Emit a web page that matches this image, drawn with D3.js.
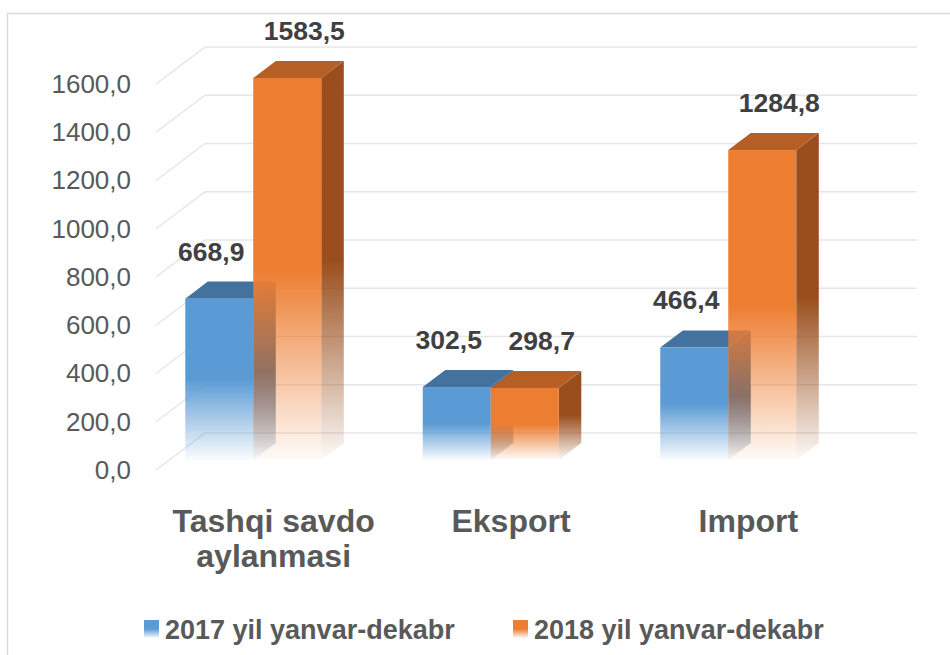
<!DOCTYPE html>
<html>
<head>
<meta charset="utf-8">
<script src="https://cdn.jsdelivr.net/npm/d3@7"></script>
<style>
  body { margin: 0; background: #fff; }
  svg { display: block; font-family: "Liberation Sans", Arial, sans-serif; }
</style>
</head>
<body>
<div id="chart"></div>
<script>
// Data
const categories = ['Tashqi savdo aylanmasi', 'Eksport', 'Import'];
const seriesNames = ['2017 yil yanvar-dekabr', '2018 yil yanvar-dekabr'];
const values2017 = [668.9, 302.5, 466.4];
const values2018 = [1583.5, 298.7, 1284.8];
const yTicks = [0, 200, 400, 600, 800, 1000, 1200, 1400, 1600];

const colors = {
  front: ['#5b9bd5', '#ed7d31'],
  top:   ['#44729f', '#b65f25'],
  side:  ['#3d6791', '#9a4e1d']
};

const W = 950, H = 655;

// oblique "3D" settings: full floor depth and the slice a bar occupies
const floorDX = 49, floorDY = -37;
const barZ0 = 0.27, barZ1 = 0.73;

const fmt = v => d3.format('.1f')(v).replace('.', ',');

const svg = d3.select('#chart').append('svg')
  .attr('width', W)
  .attr('height', H);

// chart frame (runs off the right and bottom edges)
svg.append('rect')
  .attr('x', 7.5).attr('y', 13.5)
  .attr('width', 1000).attr('height', 700)
  .attr('fill', '#fff')
  .attr('stroke', '#d9d9d9')
  .attr('stroke-width', 1.5);

const defs = svg.append('defs');
['front', 'side'].forEach(face => {
  [0, 1].forEach(i => {
    const g = defs.append('linearGradient')
      .attr('id', `grad-${face}-${i}`)
      .attr('x1', 0).attr('y1', 0).attr('x2', 0).attr('y2', 1);
    g.append('stop').attr('offset', 0).attr('stop-color', colors[face][i]).attr('stop-opacity', 1);
    g.append('stop').attr('offset', 0.5).attr('stop-color', colors[face][i]).attr('stop-opacity', 1);
    g.append('stop').attr('offset', 1).attr('stop-color', colors[face][i]).attr('stop-opacity', 0.03);
  });
});

// Scales
const yScale = d3.scaleLinear().domain([0, 1600]).range([470, 84]);  // front plane
const xFloor = d3.scaleBand().domain(categories).range([156, 868]);  // front edge of the floor
const xBar = d3.scaleBand().domain(categories).range([134.5, 847]);  // bar groups (perspective shifted)
const xSeries = d3.scaleBand().domain([0, 1]).range([-68, 68]);

// Gridlines: left wall diagonal + back wall
const grid = svg.append('g').attr('class', 'grid')
  .attr('stroke', '#e6e6e6').attr('stroke-width', 1.5).attr('fill', 'none');

grid.selectAll('.wall')
  .data(yTicks).enter()
  .append('path')
  .attr('d', d => {
    const x0 = xFloor.range()[0], y0 = yScale(d);
    return `M${x0},${y0} L${x0 + floorDX},${y0 + floorDY} L${xFloor.range()[1] + floorDX},${y0 + floorDY}`;
  });

// Bars
const barData = [];
categories.forEach((c, ci) => {
  [values2017[ci], values2018[ci]].forEach((v, si) => barData.push({ cat: c, s: si, value: v }));
});

const dz = barZ1 - barZ0;
const bars = svg.append('g').attr('class', 'bars')
  .selectAll('g').data(barData).enter()
  .append('g');

function barGeom(d) {
  const xl = xBar(d.cat) + xBar.bandwidth() / 2 + xSeries(d.s);
  const xr = xl + xSeries.bandwidth();
  const yt = yScale(d.value) + floorDY * barZ0;
  const yb = yScale(0) + floorDY * barZ0;
  return { xl, xr, yt, yb, ox: floorDX * dz, oy: floorDY * dz };
}

bars.append('path')
  .attr('fill', d => `url(#grad-side-${d.s})`)
  .attr('d', d => {
    const g = barGeom(d);
    return `M${g.xr},${g.yt} L${g.xr + g.ox},${g.yt + g.oy} L${g.xr + g.ox},${g.yb + g.oy} L${g.xr},${g.yb} Z`;
  });

bars.append('path')
  .attr('fill', d => colors.top[d.s])
  .attr('d', d => {
    const g = barGeom(d);
    return `M${g.xl},${g.yt} L${g.xl + g.ox},${g.yt + g.oy} L${g.xr + g.ox},${g.yt + g.oy} L${g.xr},${g.yt} Z`;
  });

bars.append('rect')
  .attr('fill', d => `url(#grad-front-${d.s})`)
  .attr('x', d => barGeom(d).xl)
  .attr('y', d => barGeom(d).yt)
  .attr('width', xSeries.bandwidth())
  .attr('height', d => { const g = barGeom(d); return g.yb - g.yt; });

// Data labels
const labelShift = [-8, 17];
svg.append('g').attr('class', 'labels')
  .selectAll('text').data(barData).enter()
  .append('text')
  .attr('x', d => { const g = barGeom(d); return (g.xl + g.xr) / 2 + labelShift[d.s]; })
  .attr('y', d => { const g = barGeom(d); return g.yt + g.oy - 21; })
  .attr('text-anchor', 'middle')
  .attr('font-size', '26.5px')
  .attr('font-weight', 'bold')
  .attr('fill', '#404040')
  .text(d => fmt(d.value));

// Y axis
const yAxisG = svg.append('g')
  .attr('transform', 'translate(140,0)')
  .call(d3.axisLeft(yScale).tickValues(yTicks).tickSize(0).tickPadding(9).tickFormat(fmt));
yAxisG.select('.domain').remove();
yAxisG.selectAll('text')
  .attr('font-size', '26px')
  .attr('font-family', '"Liberation Sans", Arial, sans-serif')
  .attr('fill', '#595959');

// X axis (category names)
const xAxisG = svg.append('g')
  .attr('transform', 'translate(-1,500)')
  .call(d3.axisBottom(xFloor).tickSize(0).tickPadding(9));
xAxisG.select('.domain').remove();
xAxisG.selectAll('text')
  .attr('font-size', '32px')
  .attr('font-weight', 'bold')
  .attr('font-family', '"Liberation Sans", Arial, sans-serif')
  .attr('fill', '#595959')
  .call(wrap, 230);

function wrap(texts, width) {
  texts.each(function () {
    const text = d3.select(this);
    const words = text.text().split(/\s+/);
    const y = text.attr('y');
    text.text(null);
    let line = [];
    let tspan = text.append('tspan').attr('x', 0).attr('y', y).attr('dy', '0.71em');
    words.forEach(w => {
      line.push(w);
      tspan.text(line.join(' '));
      if (tspan.node().getComputedTextLength() > width && line.length > 1) {
        line.pop();
        tspan.text(line.join(' '));
        line = [w];
        tspan = text.append('tspan').attr('x', 0).attr('dy', '1.1em').text(w);
      }
    });
  });
}

// Legend
const legendX = [144, 513];
const legend = svg.append('g').attr('class', 'legend')
  .selectAll('g').data(seriesNames).enter()
  .append('g')
  .attr('transform', (d, i) => `translate(${legendX[i]},620)`);

legend.append('rect')
  .attr('width', 15).attr('height', 18)
  .attr('fill', (d, i) => `url(#grad-front-${i})`);

legend.append('text')
  .attr('x', 21).attr('y', 19)
  .attr('font-size', '27px')
  .attr('font-weight', 'bold')
  .attr('fill', '#595959')
  .text(d => d);
</script>
</body>
</html>
